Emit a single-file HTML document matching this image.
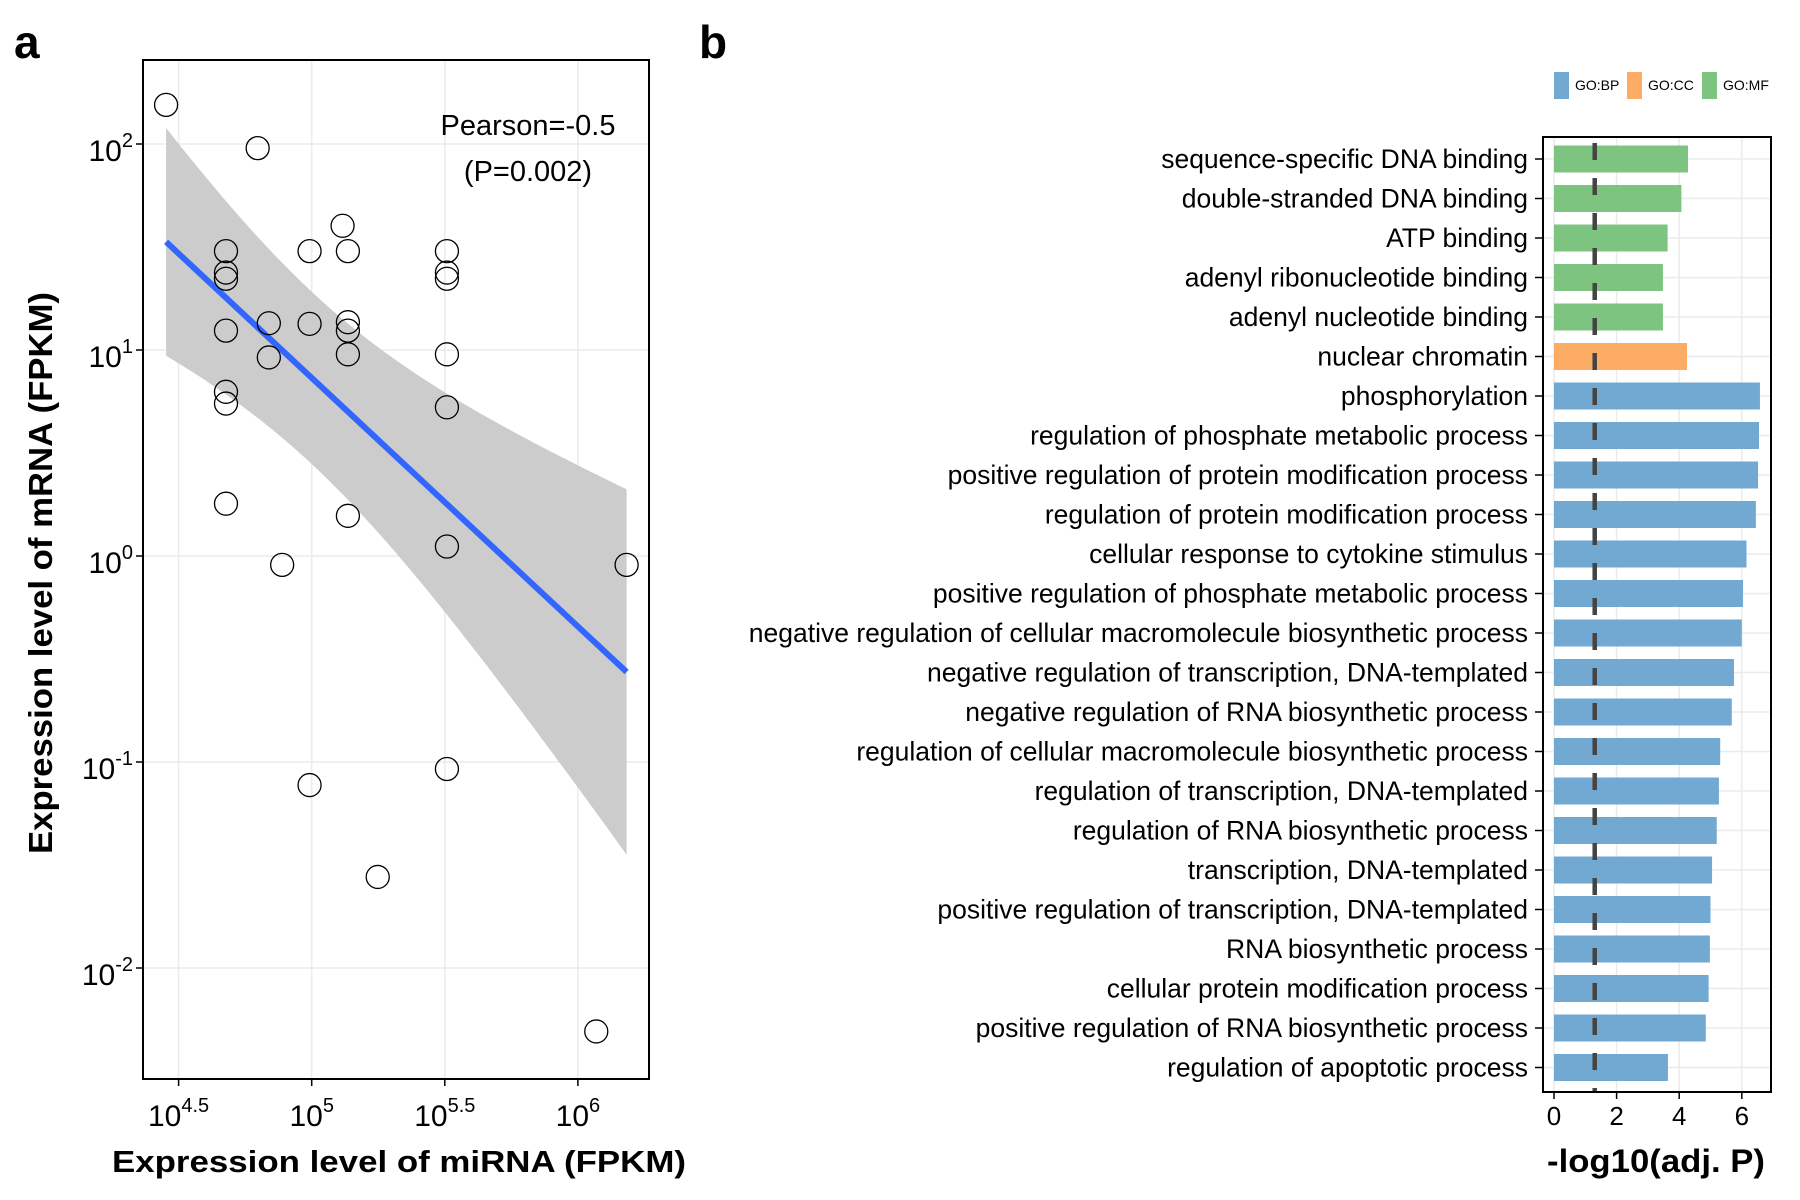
<!DOCTYPE html>
<html><head><meta charset="utf-8"><style>
html,body{margin:0;padding:0;background:#fff}
svg{display:block;font-family:"Liberation Sans",Arial,sans-serif}
</style></head><body>
<svg id="fig" width="1800" height="1200" viewBox="0 0 1800 1200">
<text x="14" y="58" font-size="46" font-weight="bold">a</text>
<text x="699" y="58" font-size="46" font-weight="bold">b</text>
<g id="pa"></g>
<g id="pb"></g>
</svg>
<script>
// ---------- Panel a data ----------
const ptLogX = [4.453,4.797,4.678,4.678,4.678,4.678,4.678,4.678,4.678,4.839,4.839,4.889,4.992,4.992,4.992,5.116,5.136,5.136,5.136,5.136,5.136,5.248,5.508,5.508,5.508,5.508,5.508,5.508,5.508,6.183,6.069];
const ptLogY = [2.19,1.98,1.48,1.376,1.346,1.094,0.797,0.74,0.254,1.13,0.964,-0.043,1.48,1.127,-1.112,1.603,1.48,1.135,1.094,0.979,0.195,-1.558,1.48,1.376,1.346,0.979,0.722,0.046,-1.034,-0.043,-2.308];
const fitX = [4.453, 6.183];
const fitY = [1.525, -0.563];
const bandA = [0.175];   // variance floor of confidence band
const bandB = [0.437];   // slope term of confidence band
const bandCenter = [5.0];
const xTicks = [4.5, 5, 5.5, 6];
const xTickLabels = ["4.5","5","5.5","6"];
const yTicks = [2, 1, 0, -1, -2];
const yTickLabels = ["2","1","0","-1","-2"];
const pearsonLabels = ["Pearson=-0.5","(P=0.002)"];

// ---------- Panel b data ----------
const terms = ["sequence-specific DNA binding","double-stranded DNA binding","ATP binding","adenyl ribonucleotide binding","adenyl nucleotide binding","nuclear chromatin","phosphorylation","regulation of phosphate metabolic process","positive regulation of protein modification process","regulation of protein modification process","cellular response to cytokine stimulus","positive regulation of phosphate metabolic process","negative regulation of cellular macromolecule biosynthetic process","negative regulation of transcription, DNA-templated","negative regulation of RNA biosynthetic process","regulation of cellular macromolecule biosynthetic process","regulation of transcription, DNA-templated","regulation of RNA biosynthetic process","transcription, DNA-templated","positive regulation of transcription, DNA-templated","RNA biosynthetic process","cellular protein modification process","positive regulation of RNA biosynthetic process","regulation of apoptotic process"];
const termValues = [4.28,4.07,3.63,3.48,3.48,4.25,6.58,6.55,6.52,6.45,6.15,6.04,6.0,5.75,5.68,5.31,5.27,5.2,5.05,5.0,4.98,4.94,4.85,3.64];
const termCats = ["MF","MF","MF","MF","MF","CC","BP","BP","BP","BP","BP","BP","BP","BP","BP","BP","BP","BP","BP","BP","BP","BP","BP","BP"];
const cutoff = [1.301];
const bTicks = [0,2,4,6];
const legendCats = ["BP","CC","MF"];

const NS="http://www.w3.org/2000/svg";
function mk(tag, attrs, parent){const e=document.createElementNS(NS,tag);for(const k in attrs)e.setAttribute(k,attrs[k]);parent.appendChild(e);return e;}

// ---------- Panel a ----------
const pa=document.getElementById('pa');
const L=143,R=649,T=60,B=1079;
const sx=v=>178.6+(v-4.5)*266.2;
const sy=v=>144-(v-2)*206;
for(const t of xTicks){const g=mk('line',{x1:sx(t),x2:sx(t),y1:T,y2:B,stroke:'#ebebeb','stroke-width':1.5},pa);

}
for(const t of yTicks){const g=mk('line',{x1:L,x2:R,y1:sy(t),y2:sy(t),stroke:'#ebebeb','stroke-width':1.5},pa);

}
let up=[],lo=[];
for(let i=0;i<=60;i++){const x=fitX[0]+(fitX[1]-fitX[0])*i/60;
const c=fitY[0]+(fitY[1]-fitY[0])*(x-fitX[0])/(fitX[1]-fitX[0]);
const hw=Math.sqrt(bandA[0]+bandB[0]*(x-bandCenter[0])**2);
up.push(sx(x).toFixed(1)+','+sy(c+hw).toFixed(1));lo.unshift(sx(x).toFixed(1)+','+sy(c-hw).toFixed(1));}
const band=mk('polygon',{points:up.concat(lo).join(' '),fill:'#cccccc'},pa);


const fl=mk('line',{x1:sx(fitX[0]),y1:sy(fitY[0]),x2:sx(fitX[1]),y2:sy(fitY[1]),stroke:'#3366ff','stroke-width':6},pa);


for(let i=0;i<ptLogX.length;i++){const c=mk('circle',{cx:sx(ptLogX[i]),cy:sy(ptLogY[i]),r:11.5,fill:'none',stroke:'#000','stroke-width':1.3},pa);

}
const box=mk('rect',{x:L,y:T,width:R-L,height:B-T,fill:'none',stroke:'#000','stroke-width':2},pa);


for(let i=0;i<xTicks.length;i++){const x=sx(xTicks[i]);
mk('line',{x1:x,x2:x,y1:B,y2:B+7,stroke:'#000','stroke-width':1.5},pa);
const t=mk('text',{x:x,y:1126,'font-size':30,'text-anchor':'middle'},pa);


t.innerHTML='10<tspan font-size="20" dy="-14">'+xTickLabels[i]+'</tspan>';}
for(let i=0;i<yTicks.length;i++){const y=sy(yTicks[i]);
mk('line',{x1:L-7,x2:L,y1:y,y2:y,stroke:'#000','stroke-width':1.5},pa);
const t=mk('text',{x:133,y:y+17,'font-size':30,'text-anchor':'end'},pa);


t.innerHTML='10<tspan font-size="20" dy="-14">'+yTickLabels[i]+'</tspan>';}
for(let i=0;i<2;i++){const t=mk('text',{x:528,y:135+i*46,'font-size':29,'text-anchor':'middle'},pa);


t.textContent=pearsonLabels[i];}
let xt=mk('text',{x:399,y:1172,'font-size':31,'font-weight':'bold','text-anchor':'middle',textLength:574,lengthAdjust:'spacingAndGlyphs'},pa);


xt.textContent='Expression level of miRNA (FPKM)';
let yt=mk('text',{x:0,y:0,'font-size':33,'font-weight':'bold','text-anchor':'middle',textLength:562,lengthAdjust:'spacingAndGlyphs',transform:'translate(52,573) rotate(-90)'},pa);


yt.textContent='Expression level of mRNA (FPKM)';

// ---------- Panel b ----------
const pb=document.getElementById('pb');
const bL=1543,bR=1771,bT=137,bB=1092;
const bx=v=>1554+v*31.3;
const by=i=>159+i*39.5;
const col={BP:'#72a9d2',CC:'#fdac66',MF:'#7cc47f'};
for(const t of bTicks){const g=mk('line',{x1:bx(t),x2:bx(t),y1:bT,y2:bB,stroke:'#ebebeb','stroke-width':1.5},pb);

}
for(let i=0;i<terms.length;i++){const g=mk('line',{x1:bL,x2:bR,y1:by(i),y2:by(i),stroke:'#ebebeb','stroke-width':1.5},pb);

}
for(let i=0;i<terms.length;i++){const r=mk('rect',{x:bx(0),y:by(i)-13.5,width:bx(termValues[i])-bx(0),height:27,fill:col[termCats[i]]},pb);


mk('line',{x1:bL-8,x2:bL,y1:by(i),y2:by(i),stroke:'#000','stroke-width':1.5},pb);
const t=mk('text',{x:1528,y:by(i)+9,'font-size':26.5,'text-anchor':'end'},pb);


t.textContent=terms[i];}
const dl=mk('line',{x1:bx(cutoff[0]),x2:bx(cutoff[0]),y1:bT,y2:bB,stroke:'#444','stroke-width':4.5,'stroke-dasharray':'17 18','stroke-dashoffset':'-6'},pb);


const bb=mk('rect',{x:bL,y:bT,width:bR-bL,height:bB-bT,fill:'none',stroke:'#000','stroke-width':2},pb);


for(const t of bTicks){mk('line',{x1:bx(t),x2:bx(t),y1:bB,y2:bB+7,stroke:'#000','stroke-width':1.5},pb);
const tx=mk('text',{x:bx(t),y:1125,'font-size':26,'text-anchor':'middle'},pb);


tx.textContent=t;}
const bt=mk('text',{x:1656,y:1172,'font-size':32,'font-weight':'bold','text-anchor':'middle',textLength:218,lengthAdjust:'spacingAndGlyphs'},pb);


bt.textContent='-log10(adj. P)';
const lx=[1554,1627,1702];
for(let i=0;i<legendCats.length;i++){
const k=mk('rect',{x:lx[i],y:72,width:15,height:27,fill:col[legendCats[i]]},pb);


const t=mk('text',{x:lx[i]+21,y:90,'font-size':14},pb);


t.textContent='GO:'+legendCats[i];}
</script>
</body></html>
